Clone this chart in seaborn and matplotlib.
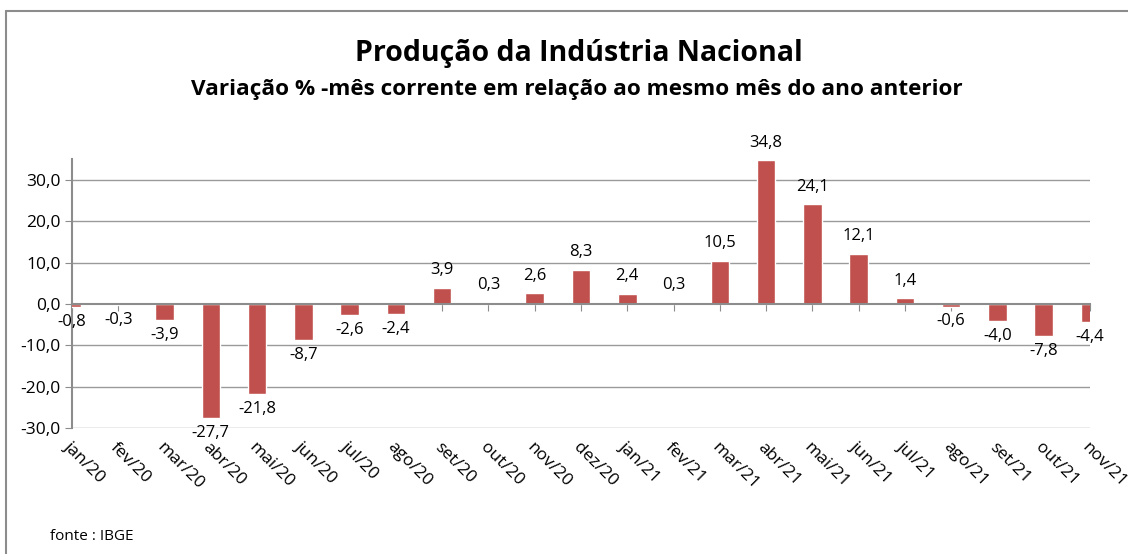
import numpy as np
import pandas as pd
import matplotlib
matplotlib.use("Agg")
import matplotlib.pyplot as plt
import seaborn as sns
from matplotlib.lines import Line2D

# data
meses = ["jan/20", "fev/20", "mar/20", "abr/20", "mai/20", "jun/20", "jul/20", "ago/20",
         "set/20", "out/20", "nov/20", "dez/20", "jan/21", "fev/21", "mar/21", "abr/21",
         "mai/21", "jun/21", "jul/21", "ago/21", "set/21", "out/21", "nov/21"]
variacao = [-0.8, -0.3, -3.9, -27.7, -21.8, -8.7, -2.6, -2.4, 3.9, 0.3, 2.6, 8.3,
            2.4, 0.3, 10.5, 34.8, 24.1, 12.1, 1.4, -0.6, -4.0, -7.8, -4.4]
yticks = [-30, -20, -10, 0, 10, 20, 30]

df = pd.DataFrame({"mes": meses, "var": variacao})

sns.set_style("white")
plt.rcParams["font.family"] = ["Open Sans", "DejaVu Sans"]
plt.rcParams["text.color"] = "black"
plt.rcParams["xtick.labelcolor"] = "black"
plt.rcParams["ytick.labelcolor"] = "black"

fig = plt.figure(figsize=(11.28, 5.54), dpi=100)
ax = fig.add_axes([72 / 1128, 1 - 428 / 554, (1090 - 72) / 1128, (428 - 159) / 554])

sns.barplot(data=df, x="mes", y="var", color="#C0504D", width=0.4,
            saturation=1, ax=ax, zorder=3, clip_on=True)

ax.set_xlim(0, len(meses) - 1)
ax.set_ylim(-30, 35.1)
ax.set_yticks(yticks)
ax.set_yticklabels([f"{v:.1f}".replace(".", ",") for v in yticks], fontsize=12.5)
for v in yticks:
    if v != 0:
        ax.axhline(v, color="#9a9a9a", lw=1, zorder=1)
ax.set_xlabel("")
ax.set_ylabel("")

# zero line with tick marks, labels go to a secondary axis at the bottom
for s in ["top", "right"]:
    ax.spines[s].set_visible(False)
ax.spines["left"].set_color("#8c8c8c")
ax.spines["left"].set_linewidth(1.5)
ax.spines["bottom"].set_position(("data", 0))
ax.spines["bottom"].set_color("#8c8c8c")
ax.spines["bottom"].set_linewidth(1.5)
ax.spines["bottom"].set_zorder(4)
ax.tick_params(axis="x", bottom=True, length=5, color="#8c8c8c", labelbottom=False)
ax.tick_params(axis="y", left=True, length=5, color="#8c8c8c", pad=3)

sec = ax.secondary_xaxis("bottom")
sec.set_xticks(range(len(meses)))
sec.set_xticklabels(meses, rotation=-45, ha="left", va="top",
                    rotation_mode="anchor", fontsize=12.5)
sec.tick_params(length=0, pad=8)
sec.spines["bottom"].set_visible(False)

# data labels
for i, v in enumerate(variacao):
    txt = f"{v:.1f}".replace(".", ",")
    if v >= 0:
        ax.annotate(txt, (i, v), xytext=(0, 7), textcoords="offset points",
                    ha="center", va="bottom", fontsize=12, annotation_clip=False)
    else:
        ax.annotate(txt, (i, v), xytext=(0, -5), textcoords="offset points",
                    ha="center", va="top", fontsize=12, annotation_clip=False)

fig.text(579 / 1128, 1 - 53 / 554, "Produção da Indústria Nacional", ha="center", va="center",
         fontsize=20.5, fontweight="bold")
fig.text(577 / 1128, 1 - 89 / 554, "Variação % -mês corrente em relação ao mesmo mês do ano anterior",
         ha="center", va="center", fontsize=16.2, fontweight="bold")
fig.text(50 / 1128, 1 - 536 / 554, "fonte : IBGE", ha="left", va="center", fontsize=11)

# outer frame (top and left edges visible)
fig.add_artist(Line2D([6 / 1128, 1], [1 - 11 / 554, 1 - 11 / 554], color="#8c8c8c", lw=1.5,
                      transform=fig.transFigure))
fig.add_artist(Line2D([6 / 1128, 6 / 1128], [0, 1 - 11 / 554], color="#8c8c8c", lw=1.5,
                      transform=fig.transFigure))

fig.savefig("out.png", dpi=100)
